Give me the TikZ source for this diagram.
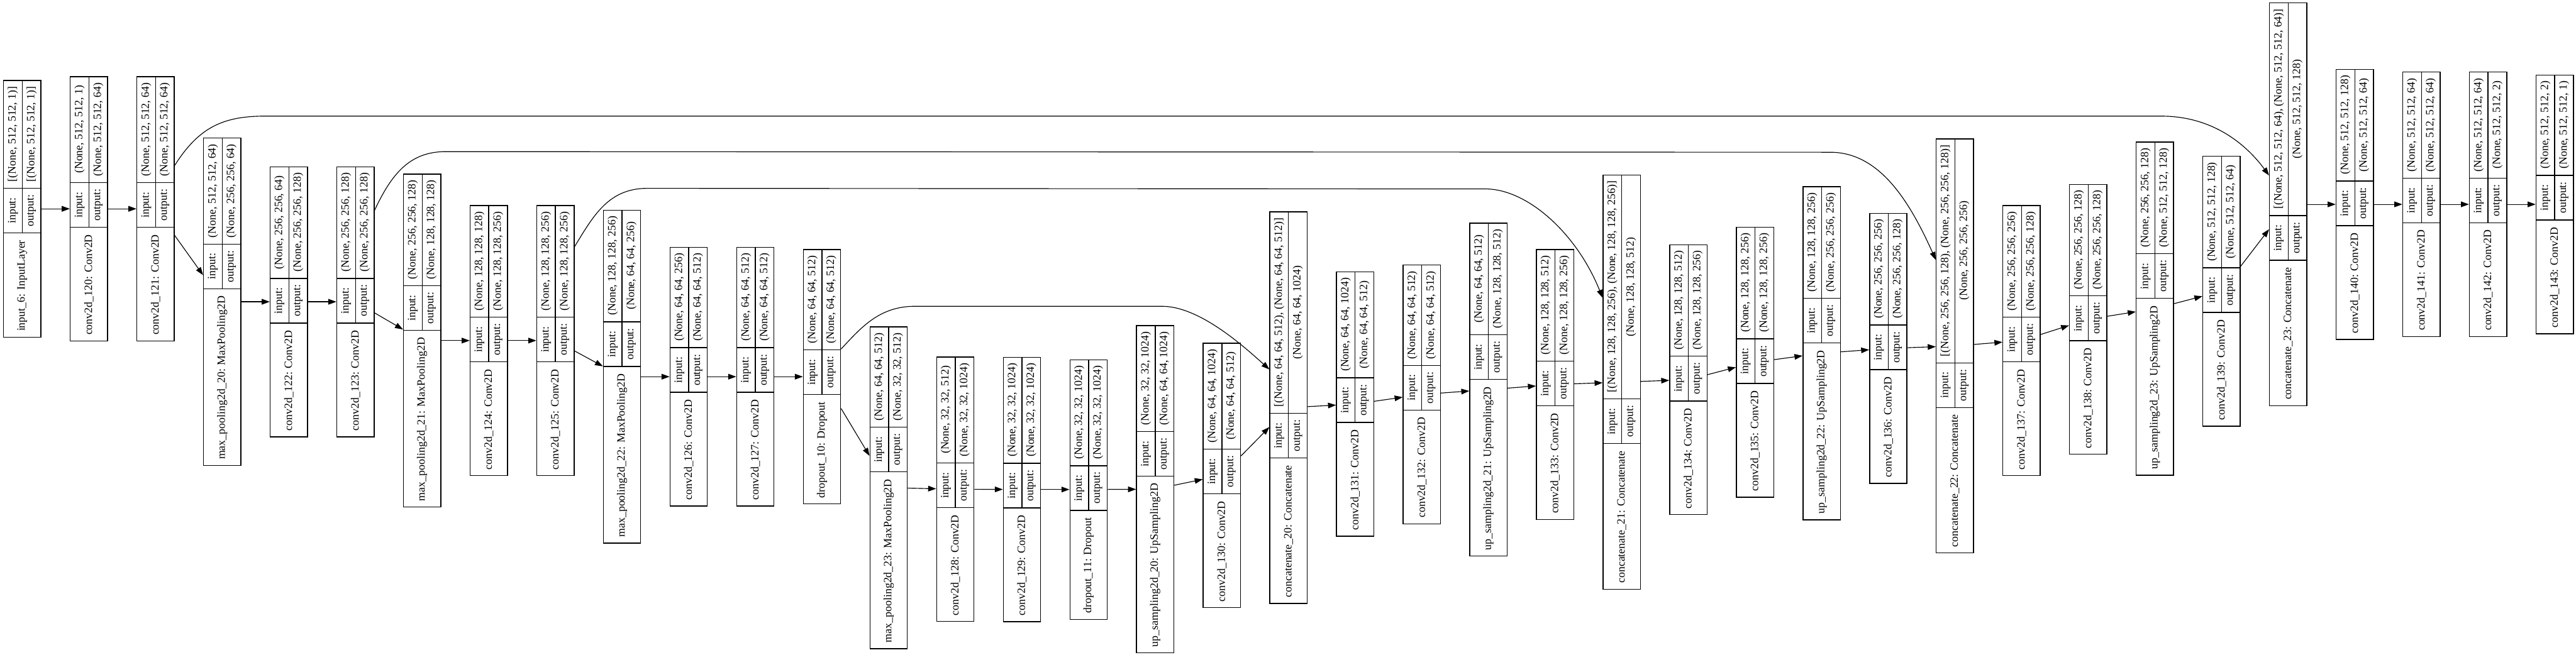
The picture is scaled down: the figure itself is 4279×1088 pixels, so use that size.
\documentclass[tikz,border=0pt]{standalone}
\usepackage{fontspec}
\setmainfont{Liberation Serif}
\usetikzlibrary{arrows.meta,calc}

\font\lraw="Liberation Serif" at 14pt
\newlength\bandlab
\newlength\bandio
\newlength\bandshp
\newlength\bandtmp
% One layer record: name, column, centre height (px from the top), title,
% input shape, output shape. The three bands are sized on their own text.
\newcommand\kerasnode[6]{%
  \settowidth\bandlab{\lraw #4}\addtolength\bandlab{16pt}%
  \settowidth\bandio{\lraw output:}\addtolength\bandio{16pt}%
  \settowidth\bandshp{\lraw #5}\settowidth\bandtmp{\lraw #6}%
  \ifdim\bandtmp>\bandshp\bandshp=\bandtmp\fi
  \addtolength\bandshp{16pt}%
  \node[rec, minimum height=\bandlab+\bandio+\bandshp] (#1) at ({37+110.7*#2},#3) {};
  \draw[rule] ($(#1.north west)+(0pt,-\bandshp)$) -- ($(#1.north east)+(0pt,-\bandshp)$);
  \draw[rule] ($(#1.north west)+(0pt,-\bandshp-\bandio)$) -- ($(#1.north east)+(0pt,-\bandshp-\bandio)$);
  \draw[rule] (#1.north) -- ($(#1.north)+(0pt,-\bandshp-\bandio)$);
  \node[cell] at ($(#1.north)+(-11.625pt,-0.5*\bandshp)$) {#5};
  \node[cell] at ($(#1.north)+(11.625pt,-0.5*\bandshp)$) {#6};
  \node[cell] at ($(#1.north)+(-11.625pt,-\bandshp-0.5*\bandio)$) {input:};
  \node[cell] at ($(#1.north)+(11.625pt,-\bandshp-0.5*\bandio)$) {output:};
  \node[cell] at ($(#1.south)+(0pt,0.5*\bandlab)$) {#4};
}

\begin{document}
\begin{tikzpicture}[x=0.75pt, y=-0.75pt,
    rec/.style={draw, line width=1.1pt, inner sep=0pt, minimum width=46.5pt},
    rule/.style={line width=1.1pt},
    cell/.style={rotate=90, font=\lraw, inner sep=0pt},
    flow/.style={line width=0.9pt, -{Triangle[length=10pt,width=7pt]}}]
  \useasboundingbox (0,0) rectangle (4279,1088);
  % Contracting side.
  \kerasnode{input6}{0}{347}{input\_6: InputLayer}{[(None, 512, 512, 1)]}{[(None, 512, 512, 1)]}
  \kerasnode{c120}{1}{347}{conv2d\_120: Conv2D}{(None, 512, 512, 1)}{(None, 512, 512, 64)}
  \kerasnode{c121}{2}{347}{conv2d\_121: Conv2D}{(None, 512, 512, 64)}{(None, 512, 512, 64)}
  \kerasnode{mp20}{3}{501.5}{max\_pooling2d\_20: MaxPooling2D}{(None, 512, 512, 64)}{(None, 256, 256, 64)}
  \kerasnode{c122}{4}{501.5}{conv2d\_122: Conv2D}{(None, 256, 256, 64)}{(None, 256, 256, 128)}
  \kerasnode{c123}{5}{501.5}{conv2d\_123: Conv2D}{(None, 256, 256, 128)}{(None, 256, 256, 128)}
  \kerasnode{mp21}{6}{566}{max\_pooling2d\_21: MaxPooling2D}{(None, 256, 256, 128)}{(None, 128, 128, 128)}
  \kerasnode{c124}{7}{566}{conv2d\_124: Conv2D}{(None, 128, 128, 128)}{(None, 128, 128, 256)}
  \kerasnode{c125}{8}{566}{conv2d\_125: Conv2D}{(None, 128, 128, 256)}{(None, 128, 128, 256)}
  \kerasnode{mp22}{9}{626}{max\_pooling2d\_22: MaxPooling2D}{(None, 128, 128, 256)}{(None, 64, 64, 256)}
  \kerasnode{c126}{10}{626}{conv2d\_126: Conv2D}{(None, 64, 64, 256)}{(None, 64, 64, 512)}
  \kerasnode{c127}{11}{626}{conv2d\_127: Conv2D}{(None, 64, 64, 512)}{(None, 64, 64, 512)}
  \kerasnode{drop10}{12}{626}{dropout\_10: Dropout}{(None, 64, 64, 512)}{(None, 64, 64, 512)}
  \kerasnode{mp23}{13}{810.5}{max\_pooling2d\_23: MaxPooling2D}{(None, 64, 64, 512)}{(None, 32, 32, 512)}
  \kerasnode{c128}{14}{813}{conv2d\_128: Conv2D}{(None, 32, 32, 512)}{(None, 32, 32, 1024)}
  \kerasnode{c129}{15}{813.5}{conv2d\_129: Conv2D}{(None, 32, 32, 1024)}{(None, 32, 32, 1024)}
  \kerasnode{drop11}{16}{813.5}{dropout\_11: Dropout}{(None, 32, 32, 1024)}{(None, 32, 32, 1024)}
  % Expanding side.
  \kerasnode{up20}{17}{813}{up\_sampling2d\_20: UpSampling2D}{(None, 32, 32, 1024)}{(None, 64, 64, 1024)}
  \kerasnode{c130}{18}{790}{conv2d\_130: Conv2D}{(None, 64, 64, 1024)}{(None, 64, 64, 512)}
  \kerasnode{concat20}{19}{677.5}{concatenate\_20: Concatenate}{[(None, 64, 64, 512), (None, 64, 64, 512)]}{(None, 64, 64, 1024)}
  \kerasnode{c131}{20}{671.5}{conv2d\_131: Conv2D}{(None, 64, 64, 1024)}{(None, 64, 64, 512)}
  \kerasnode{c132}{21}{655.5}{conv2d\_132: Conv2D}{(None, 64, 64, 512)}{(None, 64, 64, 512)}
  \kerasnode{up21}{22}{647.5}{up\_sampling2d\_21: UpSampling2D}{(None, 64, 64, 512)}{(None, 128, 128, 512)}
  \kerasnode{c133}{23}{639}{conv2d\_133: Conv2D}{(None, 128, 128, 512)}{(None, 128, 128, 256)}
  \kerasnode{concat21}{24}{635}{concatenate\_21: Concatenate}{[(None, 128, 128, 256), (None, 128, 128, 256)]}{(None, 128, 128, 512)}
  \kerasnode{c134}{25}{631}{conv2d\_134: Conv2D}{(None, 128, 128, 512)}{(None, 128, 128, 256)}
  \kerasnode{c135}{26}{602}{conv2d\_135: Conv2D}{(None, 128, 128, 256)}{(None, 128, 128, 256)}
  \kerasnode{up22}{27}{587}{up\_sampling2d\_22: UpSampling2D}{(None, 128, 128, 256)}{(None, 256, 256, 256)}
  \kerasnode{c136}{28}{579}{conv2d\_136: Conv2D}{(None, 256, 256, 256)}{(None, 256, 256, 128)}
  \kerasnode{concat22}{29}{575}{concatenate\_22: Concatenate}{[(None, 256, 256, 128), (None, 256, 256, 128)]}{(None, 256, 256, 256)}
  \kerasnode{c137}{30}{566}{conv2d\_137: Conv2D}{(None, 256, 256, 256)}{(None, 256, 256, 128)}
  \kerasnode{c138}{31}{530.7}{conv2d\_138: Conv2D}{(None, 256, 256, 128)}{(None, 256, 256, 128)}
  \kerasnode{up23}{32}{513}{up\_sampling2d\_23: UpSampling2D}{(None, 256, 256, 128)}{(None, 512, 512, 128)}
  \kerasnode{c139}{33}{484}{conv2d\_139: Conv2D}{(None, 512, 512, 128)}{(None, 512, 512, 64)}
  \kerasnode{concat23}{34}{339.6}{concatenate\_23: Concatenate}{[(None, 512, 512, 64), (None, 512, 512, 64)]}{(None, 512, 512, 128)}
  \kerasnode{c140}{35}{339.6}{conv2d\_140: Conv2D}{(None, 512, 512, 128)}{(None, 512, 512, 64)}
  \kerasnode{c141}{36}{339.6}{conv2d\_141: Conv2D}{(None, 512, 512, 64)}{(None, 512, 512, 64)}
  \kerasnode{c142}{37}{339.6}{conv2d\_142: Conv2D}{(None, 512, 512, 64)}{(None, 512, 512, 2)}
  \kerasnode{c143}{38}{339.6}{conv2d\_143: Conv2D}{(None, 512, 512, 2)}{(None, 512, 512, 1)}
  % Main chain, centre to centre.
  \foreach \a/\b in {input6/c120, c120/c121, c121/mp20, mp20/c122, c122/c123, c123/mp21,
      mp21/c124, c124/c125, c125/mp22, mp22/c126, c126/c127, c127/drop10, drop10/mp23,
      mp23/c128, c128/c129, c129/drop11, drop11/up20, up20/c130, c130/concat20,
      concat20/c131, c131/c132, c132/up21, up21/c133, c133/concat21, concat21/c134,
      c134/c135, c135/up22, up22/c136, c136/concat22, concat22/c137, c137/c138,
      c138/up23, up23/c139, c139/concat23, concat23/c140, c140/c141, c141/c142, c142/c143}
    \draw[flow] (\a) -- (\b);
  % Skip connections, carried over the top of the row.
  \draw[flow] ($(c121.east)+(0,-72)$) .. controls (330,212) and (370,193) .. (440,193)
    -- (3590,193) .. controls (3680,193) and (3735,245) .. ($(concat23.west)+(0,-48)$);
  \draw[flow] ($(c123.east)+(0,-152)$) .. controls (650,290) and (680,252) .. (740,252)
    -- (3040,253) .. controls (3120,253) and (3170,330) .. ($(concat22.west)+(0,-143)$);
  \draw[flow] ($(c125.east)+(0,-156)$) .. controls (985,360) and (1010,313) .. (1075,313)
    -- (2470,314) .. controls (2540,316) and (2620,390) .. ($(concat21.west)+(0,-140)$);
  \draw[flow] ($(drop10.east)+(0,-46)$) .. controls (1430,545) and (1460,509) .. (1520,509)
    -- (1930,509) .. controls (1990,509) and (2060,570) .. ($(concat20.west)+(0,-63.5)$);
\end{tikzpicture}
\end{document}
